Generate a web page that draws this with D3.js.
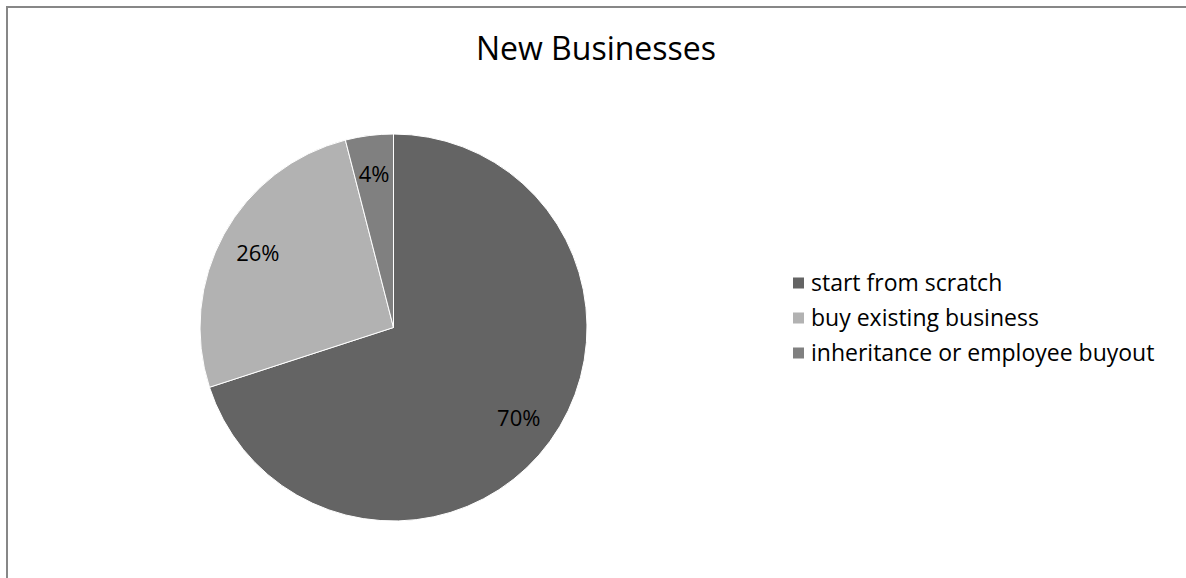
<!DOCTYPE html>
<html><head><meta charset="utf-8">
<script src="https://cdn.jsdelivr.net/npm/d3@7/dist/d3.min.js"></script>
<style>html,body{margin:0;padding:0;background:#fff;overflow:hidden}svg{display:block}</style>
</head><body>
<svg id="chart" width="1186" height="578"></svg>
<script>
const categories = ["start from scratch", "buy existing business", "inheritance or employee buyout"];
const values = [70, 26, 4];
const labels = ["70%", "26%", "4%"];
const colors = ["#646464", "#b2b2b2", "#808080"];
const title = "New Businesses";

const svg = d3.select("#chart");
const font = "'Open Sans', Lato, sans-serif";

svg.append("path").attr("d", "M7,578V7H1186")
  .attr("fill", "none").attr("stroke", "#878787").attr("stroke-width", 2);

svg.append("text").attr("x", 596).attr("y", 60).attr("text-anchor", "middle")
  .attr("font-family", font).attr("font-size", 32).attr("fill", "#000").text(title);

const cx = 393.5, cy = 327.5, r = 193.5;
const pie = d3.pie().sort(null).value(d => d);
const arcs = pie(values);
const arc = d3.arc().innerRadius(0).outerRadius(r);
const labelArc = d3.arc().innerRadius(r * 0.8).outerRadius(r * 0.8);
const g = svg.append("g").attr("transform", `translate(${cx},${cy})`);
g.selectAll("path").data(arcs).join("path")
  .attr("d", arc).attr("fill", (d, i) => colors[i]).attr("stroke", "#fff").attr("stroke-width", 1);
g.selectAll("text").data(arcs).join("text")
  .attr("transform", d => `translate(${labelArc.centroid(d)})`)
  .attr("text-anchor", "middle").attr("dy", "0.35em")
  .attr("font-family", font).attr("font-size", 22).attr("fill", "#000")
  .text((d, i) => labels[i]);

const lg = svg.append("g").attr("transform", "translate(793,283)");
const rows = lg.selectAll("g").data(categories).join("g")
  .attr("transform", (d, i) => `translate(0,${i * 35})`);
rows.append("rect").attr("x", 0).attr("y", -5.5).attr("width", 11).attr("height", 11)
  .attr("fill", (d, i) => colors[i]);
rows.append("text").attr("x", 18).attr("dy", "0.35em")
  .attr("font-family", font).attr("font-size", 23).attr("fill", "#000").text(d => d);
</script>
</body></html>
